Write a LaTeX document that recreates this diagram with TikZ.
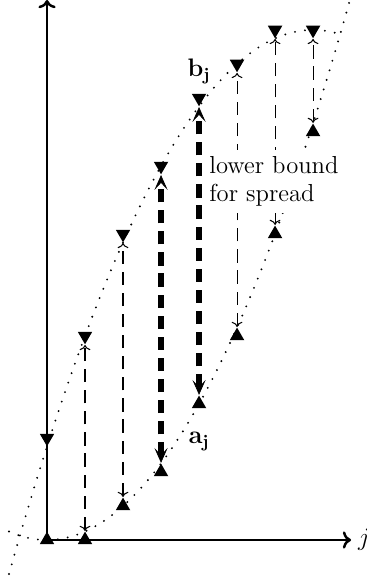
\documentclass[tikz,border=0pt]{standalone}
\usetikzlibrary{positioning,shapes.geometric,arrows.meta}
\begin{document}
\begin{tikzpicture}[x=0.76cm,y=0.68cm,font=\fontsize{14}{16}\selectfont,
  hi/.style={regular polygon,regular polygon sides=3,shape border rotate=180,fill,inner sep=0pt,minimum size=9.5pt},
  lo/.style={regular polygon,regular polygon sides=3,fill,inner sep=0pt,minimum size=9.5pt},
  gap/.style={<->,line width=0.6pt,dash pattern=on 7.5pt off 4.5pt},
  biggap/.style={{Stealth[length=8.5pt,width=7.5pt,inset=4pt,line width=0.4pt]}-{Stealth[length=8.5pt,width=7.5pt,inset=4pt,line width=0.4pt]},line width=3pt,dash pattern=on 7.5pt off 4.5pt},
  axis/.style={->,line width=1.4pt},
  curve/.style={line width=1.2pt,line cap=round,dash pattern=on 0pt off 5.7pt}]
 \useasboundingbox (-1.237,-1.206) rectangle (8.395,15.88);
 \draw[curve] plot[domain=-1:8,samples=80,smooth] (\x,{\x*\x/4});
 \draw[curve] plot[domain=-1:7.75,samples=80,smooth] (\x,{15-(7-\x)*(7-\x)/4});
 \coordinate (o) at (0,0);
 \coordinate (ytop) at (0,15.88);
 \coordinate (xend) at (8,0);
 \draw[axis] (o) -- (ytop);
 \draw[axis] (o) -- (xend) node[right] (jlab) {$j$};
 \path 	(0,0) 	node[lo] (a0) {}
 	(1,0) 	node[lo] (a1) {}
 	(2,1) 	node[lo] (a2) {}
 	(3,2) 	node[lo] (a3) {}
 	(4,4) 	node[lo] (a4) {}
 	(5,6) 	node[lo] (a5) {}
 	(6,9) 	node[lo] (a6) {}
 	(7,12) 	node[lo] (a7) {};
 \path 	(0,3) 	node[hi] (b0) {}
 	(1,6) 	node[hi] (b1) {}
 	(2,9) 	node[hi] (b2) {}
 	(3,11) 	node[hi] (b3) {}
 	(4,13) 	node[hi] (b4) {}
 	(5,14) 	node[hi] (b5) {}
 	(6,15) 	node[hi] (b6) {}
 	(7,15) 	node[hi] (b7) {};
 \draw[gap] (a1) -- (b1);
 \draw[gap] (a2) -- (b2);
 \draw[biggap] (a3) -- (b3);
 \draw[biggap] (a4) -- (b4);
 \draw[gap] (a5) -- (b5);
 \draw[gap] (a6) -- (b6);
 \draw[gap] (a7) -- (b7);
 \node[above=2pt of b4] (bj) {$\mathbf{b_j}$};
 \node[below=10pt of a4] (aj) {$\mathbf{a_j}$};
 \node[fill=white,align=left,anchor=west,inner sep=3.5pt] (spread) at (4.1,10.54) {lower bound\\for spread};
\end{tikzpicture}
\end{document}
